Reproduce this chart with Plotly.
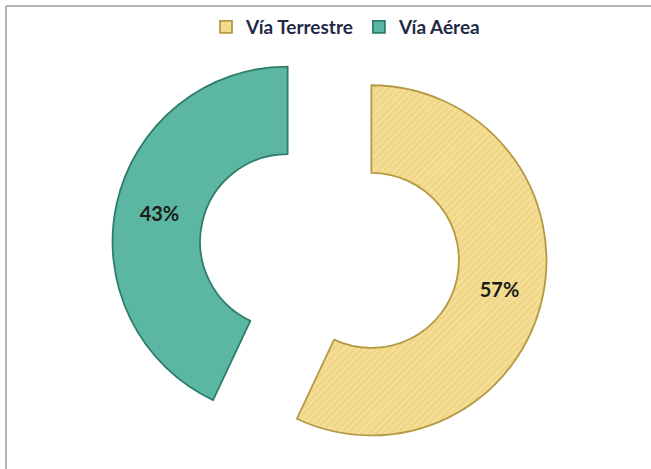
import plotly.graph_objects as go

labels = ["Vía Terrestre", "Vía Aérea"]
values = [57, 43]
colors = ["#F1D685", "#5CB7A2"]
edge_colors = ["#B59A45", "#2E7D6C"]

W, H = 651, 469
ml, mr, mt, mb = 8, 0, 33, 0

fig = go.Figure(go.Pie(
    labels=labels,
    values=values,
    sort=False,
    direction="clockwise",
    rotation=0,
    hole=0.5,
    pull=[0.245, 0.245],
    marker=dict(
        colors=colors,
        line=dict(color=edge_colors, width=1.8),
        pattern=dict(shape=["/", ""], fgcolor="#F9EBB8", bgcolor=colors,
                     size=5, solidity=0.35, fillmode="overlay"),
    ),
    textinfo="percent",
    texttemplate="%{percent:.0%}",
    textposition="inside",
    insidetextorientation="horizontal",
    textfont=dict(family="Lato", size=20, color="#1B1B1B", weight="bold"),
    hoverinfo="label+percent",
))

pw = W - ml - mr
ph = H - mt - mb

def px_x(x):
    return (x - ml) / pw

def px_y(y):
    return 1 - (y - mt) / ph

fig.update_layout(
    width=W, height=H,
    margin=dict(l=ml, r=mr, t=mt, b=mb, autoexpand=False),
    paper_bgcolor="white",
    plot_bgcolor="white",
    showlegend=True,
    legend=dict(
        orientation="h",
        xref="container", yref="container",
        x=346 / W, xanchor="center",
        y=1 - 27 / H, yanchor="middle",
        bgcolor="rgba(0,0,0,0)",
        font=dict(family="Lato", size=19, color="#1F2A44", weight="bold"),
        itemwidth=30,
        traceorder="normal",
    ),
    shapes=[
        dict(type="line", xref="paper", yref="paper",
             x0=px_x(6), x1=px_x(6), y0=px_y(6), y1=px_y(H + 5),
             line=dict(color="#B3B3B3", width=2)),
        dict(type="line", xref="paper", yref="paper",
             x0=px_x(6), x1=px_x(W + 5), y0=px_y(6), y1=px_y(6),
             line=dict(color="#B3B3B3", width=2)),
    ],
)

fig.write_html("out.html", config={"displayModeBar": False},
               post_script="document.body.style.margin='0';")
